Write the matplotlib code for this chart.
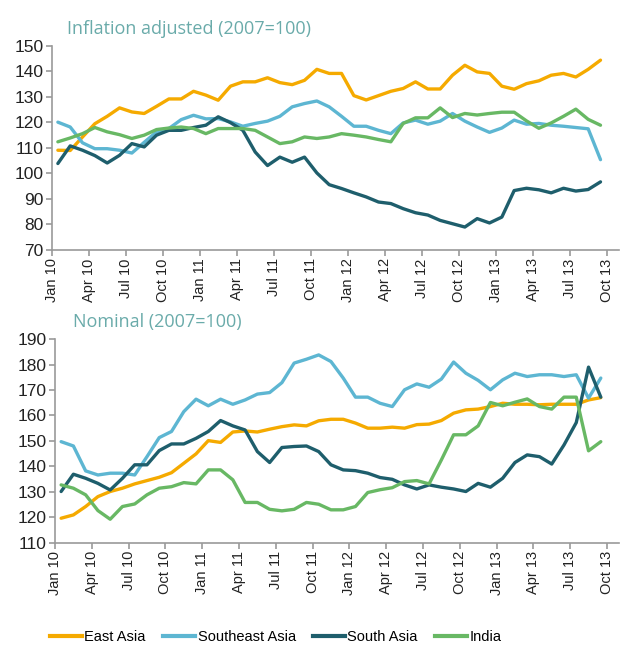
import numpy as np
import matplotlib.pyplot as plt
from matplotlib.lines import Line2D

# monthly series, Jan 2010 - Sep 2013 (45 months)
east_real = [109.1, 109.0, 114.3, 119.5, 122.4, 125.7, 124.1, 123.5, 126.3, 129.2,
             129.2, 132.2, 130.7, 128.7, 134.2, 135.9, 135.9, 137.5, 135.6, 134.8,
             136.5, 140.8, 139.2, 139.2, 130.5, 128.8, 130.5, 132.2, 133.3, 135.9,
             133.1, 133.1, 138.5, 142.4, 139.8, 139.2, 134.2, 133.0, 135.2, 136.3,
             138.5, 139.2, 137.8, 140.8, 144.4]
seast_real = [120.1, 118.2, 112.0, 109.7, 109.7, 109.1, 108.0, 112.2, 116.3, 117.6,
              121.1, 122.8, 121.4, 121.5, 120.2, 118.5, 119.6, 120.5, 122.4, 126.1,
              127.4, 128.4, 126.1, 122.4, 118.5, 118.5, 116.9, 115.6, 119.8, 120.9,
              119.3, 120.5, 123.5, 120.5, 118.2, 116.1, 117.8, 120.9, 119.3, 119.6,
              118.9, 118.5, 118.0, 117.5, 105.4]
south_real = [103.9, 110.8, 109.1, 107.0, 104.1, 107.1, 111.7, 110.4, 115.0, 116.9,
              116.9, 118.0, 118.9, 122.2, 119.9, 116.9, 108.4, 103.1, 106.4, 104.4,
              106.4, 100.2, 95.6, 94.1, 92.4, 90.8, 88.8, 88.2, 86.2, 84.6,
              83.7, 81.6, 80.3, 79.0, 82.3, 80.6, 82.9, 93.3, 94.2, 93.6,
              92.4, 94.2, 93.1, 93.7, 96.7]
india_real = [112.4, 113.9, 115.6, 118.0, 116.3, 115.2, 113.7, 115.0, 117.2, 117.8,
              118.2, 117.6, 115.6, 117.6, 117.6, 117.6, 116.9, 114.3, 111.7, 112.4,
              114.3, 113.7, 114.3, 115.6, 115.0, 114.3, 113.3, 112.4, 119.6, 121.8,
              121.8, 125.7, 121.9, 123.5, 122.9, 123.5, 124.0, 124.0, 120.6, 117.7,
              119.8, 122.4, 125.2, 121.2, 118.9]

east_nom = [119.6, 120.9, 124.2, 128.1, 130.1, 131.4, 133.1, 134.4, 135.7, 137.5,
            141.2, 144.9, 150.1, 149.4, 153.5, 153.9, 153.5, 154.6, 155.6, 156.3,
            155.9, 157.9, 158.5, 158.5, 157.0, 155.0, 155.0, 155.4, 155.0, 156.4,
            156.6, 158.0, 160.9, 162.2, 162.5, 163.5, 164.8, 164.4, 164.4, 164.2,
            164.4, 164.4, 164.4, 166.1, 167.0]
seast_nom = [149.7, 148.0, 138.2, 136.6, 137.3, 137.3, 136.6, 143.8, 151.3, 153.7,
             161.5, 166.4, 163.8, 166.4, 164.4, 166.1, 168.4, 169.0, 172.9, 180.6,
             182.1, 183.8, 181.2, 174.7, 167.2, 167.2, 164.8, 163.5, 170.1, 172.4,
             171.1, 174.3, 181.0, 176.6, 173.8, 170.1, 174.0, 176.6, 175.3, 176.0,
             176.0, 175.3, 176.0, 166.8, 174.7]
south_nom = [130.1, 136.9, 135.3, 133.3, 130.7, 135.3, 140.6, 140.6, 146.2, 148.8,
             148.8, 151.0, 153.7, 158.0, 155.9, 154.3, 145.8, 141.5, 147.4, 147.8,
             148.0, 145.8, 140.6, 138.6, 138.3, 137.3, 135.6, 134.9, 132.7, 131.1,
             132.7, 131.8, 131.1, 130.1, 133.3, 131.8, 135.3, 141.5, 144.5, 143.8,
             140.9, 148.4, 157.2, 179.0, 167.2]
india_nom = [132.7, 131.4, 128.8, 122.6, 119.2, 124.2, 125.2, 128.8, 131.4, 132.0,
             133.6, 133.1, 138.6, 138.6, 134.7, 125.8, 125.8, 123.1, 122.5, 123.1,
             125.8, 125.1, 122.9, 122.9, 124.2, 129.7, 130.8, 131.6, 134.0, 134.4,
             133.1, 142.5, 152.4, 152.4, 155.9, 165.1, 163.8, 165.2, 166.5, 163.5,
             162.5, 167.2, 167.2, 146.1, 149.7]

tick_labels = ["Jan 10", "Apr 10", "Jul 10", "Oct 10", "Jan 11", "Apr 11", "Jul 11", "Oct 11",
               "Jan 12", "Apr 12", "Jul 12", "Oct 12", "Jan 13", "Apr 13", "Jul 13", "Oct 13"]

names = ["East Asia", "Southeast Asia", "South Asia", "India"]
colors = ["#F5AA00", "#5DB6D2", "#1E5E6C", "#68B864"]

narrow = ["Liberation Sans", "DejaVu Sans"]
title_color = "#6AABAA"
axis_gray = "#9A9A9A"

fig = plt.figure(figsize=(6.2, 6.46), dpi=100)
ax1 = fig.add_axes([0.0834, 0.613, 0.915, 0.316])
ax2 = fig.add_axes([0.0887, 0.160, 0.910, 0.315])

x = np.arange(45) + 0.5


def style(ax, series, ylo, yhi, title, title_x):
    for s, c in zip(series, colors):
        ax.plot(x, s, color=c, lw=2.4, solid_joinstyle="round", solid_capstyle="round")
    ax.set_xlim(0, 46)
    ax.set_ylim(ylo, yhi)
    ax.set_yticks(np.arange(ylo, yhi + 1, 10))
    ax.set_xticks(np.arange(0, 46, 3))
    ax.set_xticklabels(tick_labels, rotation=90, family=narrow, fontsize=10.5)
    for lab in ax.get_yticklabels():
        lab.set_family(narrow)
        lab.set_fontsize(12.5)
    for side in ["top", "right"]:
        ax.spines[side].set_visible(False)
    for side in ["left", "bottom"]:
        ax.spines[side].set_color(axis_gray)
        ax.spines[side].set_linewidth(1.2)
    ax.tick_params(axis="both", colors=axis_gray, length=4, width=1.2, labelcolor="#222222", pad=2)
    fig.text(title_x, ax.get_position().y1 + 0.012, title, family="Open Sans",
             fontsize=13, color=title_color, ha="left", va="bottom")


style(ax1, [east_real, seast_real, south_real, india_real], 70, 150,
      "Inflation adjusted (2007=100)", 0.108)
style(ax2, [east_nom, seast_nom, south_nom, india_nom], 110, 190,
      "Nominal (2007=100)", 0.117)

handles = [Line2D([], [], color=c, lw=3) for c in colors]
fig.legend(handles, names, loc="center", bbox_to_anchor=(0.445, 0.014), ncol=4, frameon=False,
           handlelength=2.2, handletextpad=0.15, columnspacing=1.2,
           prop={"family": narrow, "size": 10.5})

fig.savefig("out.png", dpi=100)
